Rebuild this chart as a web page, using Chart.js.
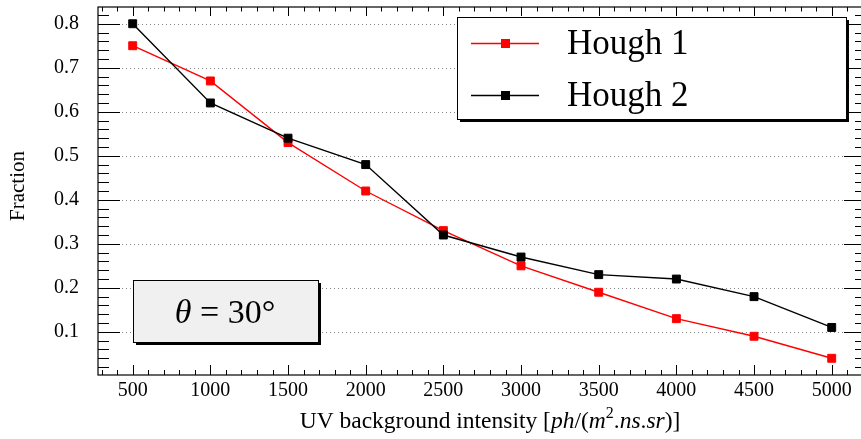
<!DOCTYPE html>
<html>
<head>
<meta charset="utf-8">
<script src="https://cdn.jsdelivr.net/npm/chart.js@4.4.1/dist/chart.umd.min.js"></script>
<style>
  html, body { margin: 0; padding: 0; background: #fff; }
  #wrap { width: 861px; height: 439px; position: relative; }
</style>
</head>
<body>
<div id="wrap"><canvas id="fractionChart"></canvas></div>
<script>
// data
const intensity = [500, 1000, 1500, 2000, 2500, 3000, 3500, 4000, 4500, 5000];
const hough1 = [0.75, 0.67, 0.53, 0.42, 0.33, 0.25, 0.19, 0.13, 0.09, 0.04];
const hough2 = [0.80, 0.62, 0.54, 0.48, 0.32, 0.27, 0.23, 0.22, 0.18, 0.11];
const seriesNames = ['Hough 1', 'Hough 2'];
const xTicks = [500, 1000, 1500, 2000, 2500, 3000, 3500, 4000, 4500, 5000];
const yTicks = [0.1, 0.2, 0.3, 0.4, 0.5, 0.6, 0.7, 0.8];
const angleText = '30°';

const serif = "'Liberation Serif', 'Times New Roman', serif";
const frameCut = 5; // the right side of the frame is cropped off the image

// draw a line of text made of runs: [text, 'n' | 'i' | 'sup']
function drawRuns(ctx, runs, cx, baseY, size) {
  const fontOf = s => s === 'i' ? `italic ${size}px ${serif}`
    : s === 'sup' ? `${Math.round(size * 0.7)}px ${serif}` : `${size}px ${serif}`;
  let total = 0;
  const widths = runs.map(([t, s]) => { ctx.font = fontOf(s); const w = ctx.measureText(t).width; total += w; return w; });
  let x = cx - total / 2;
  ctx.textAlign = 'left'; ctx.textBaseline = 'alphabetic'; ctx.fillStyle = '#000';
  runs.forEach(([t, s], i) => {
    ctx.font = fontOf(s);
    ctx.fillText(t, x, s === 'sup' ? baseY - size * 0.42 : baseY);
    x += widths[i];
  });
}

function shadowBox(ctx, x0, y0, x1, y1, fill) {
  ctx.fillStyle = '#000';
  ctx.fillRect(x0 + 3, y0 + 3, x1 - x0, y1 - y0);
  ctx.fillStyle = fill;
  ctx.fillRect(x0, y0, x1 - x0, y1 - y0);
  ctx.strokeStyle = '#000'; ctx.lineWidth = 1; ctx.setLineDash([]);
  ctx.strokeRect(x0 + 0.5, y0 + 0.5, x1 - x0, y1 - y0);
}

// ROOT-like frame, ticks, legend and label box
const rootFrame = {
  id: 'rootFrame',
  beforeDatasetsDraw(chart) {
    const { ctx, chartArea: a, scales: { y } } = chart;
    ctx.save();
    ctx.strokeStyle = '#888'; ctx.lineWidth = 1; ctx.setLineDash([1, 3]);
    yTicks.forEach(v => {
      const py = Math.round(y.getPixelForValue(v)) + 0.5;
      ctx.beginPath(); ctx.moveTo(a.left, py); ctx.lineTo(a.right, py); ctx.stroke();
    });
    ctx.restore();
  },
  afterDatasetsDraw(chart) {
    const { ctx, chartArea: a, scales: { x, y } } = chart;
    const right = a.right + frameCut;
    ctx.save();
    ctx.strokeStyle = '#000'; ctx.lineWidth = 1.2; ctx.setLineDash([]);
    ctx.strokeRect(a.left, a.top, right - a.left, a.bottom - a.top);

    ctx.lineWidth = 1;
    ctx.beginPath();
    for (let v = 300; v <= 5200; v += 100) {
      const px = Math.round(x.getPixelForValue(v)) + 0.5;
      const len = v % 500 === 0 ? 10 : 5;
      ctx.moveTo(px, a.bottom); ctx.lineTo(px, a.bottom - len);
      ctx.moveTo(px, a.top); ctx.lineTo(px, a.top + len * 0.9);
    }
    for (let i = 1; i <= 41; i++) {
      const py = Math.round(y.getPixelForValue(i * 0.02)) + 0.5;
      const len = i % 5 === 0 ? 22 : 11;
      ctx.moveTo(a.left, py); ctx.lineTo(a.left + len, py);
      ctx.moveTo(right, py); ctx.lineTo(right - len, py);
    }
    ctx.stroke();

    // legend
    shadowBox(ctx, 457, 17, 846, 119, '#fff');
    chart.data.datasets.forEach((ds, i) => {
      const cy = [43, 95][i];
      ctx.strokeStyle = ds.borderColor; ctx.lineWidth = 1.4;
      ctx.beginPath(); ctx.moveTo(471, cy + 0.5); ctx.lineTo(539, cy + 0.5); ctx.stroke();
      ctx.fillStyle = ds.borderColor;
      ctx.fillRect(501, cy - 4, 9, 9);
      ctx.fillStyle = '#000'; ctx.font = `35px ${serif}`;
      ctx.textAlign = 'left'; ctx.textBaseline = 'alphabetic';
      ctx.fillText(ds.label, 567, cy + 11);
    });

    // angle box
    shadowBox(ctx, 133, 280, 318, 342, '#f0f0f0');
    drawRuns(ctx, [['θ', 'i'], [' = ' + angleText, 'n']], 225, 323, 34);

    // axis titles
    drawRuns(ctx, [['UV background intensity [', 'n'], ['ph', 'i'], ['/(', 'n'], ['m', 'i'], ['2', 'sup'],
      ['.', 'n'], ['ns', 'i'], ['.', 'n'], ['sr', 'i'], [')]', 'n']], 490, 428, 23.5);
    ctx.save();
    ctx.translate(24, 186); ctx.rotate(-Math.PI / 2);
    drawRuns(ctx, [['Fraction', 'n']], 0, 0, 21);
    ctx.restore();
    ctx.restore();
  }
};

const noPad = s => { s.paddingTop = 0; s.paddingBottom = 0; s.paddingLeft = 0; s.paddingRight = 0; };

new Chart(document.getElementById('fractionChart'), {
  type: 'line',
  data: {
    labels: intensity,
    datasets: [
      { label: seriesNames[0], data: intensity.map((v, i) => ({ x: v, y: hough1[i] })), borderColor: '#ff0000', backgroundColor: '#ff0000',
        borderWidth: 1.4, pointStyle: 'rect', pointRadius: 5.6, pointBorderWidth: 1, pointBackgroundColor: '#ff0000', tension: 0, order: 2 },
      { label: seriesNames[1], data: intensity.map((v, i) => ({ x: v, y: hough2[i] })), borderColor: '#000000', backgroundColor: '#000000',
        borderWidth: 1.4, pointStyle: 'rect', pointRadius: 5.6, pointBorderWidth: 1, pointBackgroundColor: '#000000', tension: 0, order: 1 }
    ]
  },
  options: {
    responsive: true, maintainAspectRatio: false, animation: false,
    layout: { autoPadding: false, padding: { top: 7, right: 0, left: 0, bottom: 0 } },
    plugins: { legend: { display: false }, tooltip: { enabled: false } },
    scales: {
      x: {
        type: 'linear', min: 276.6, max: 5188.6,
        grid: { display: false, drawTicks: false }, border: { display: false },
        afterBuildTicks: s => { s.ticks = xTicks.map(v => ({ value: v })); },
        afterFit: s => { s.height = 64; noPad(s); },
        ticks: { padding: 4, maxRotation: 0, autoSkip: false, color: '#000', font: { family: serif, size: 20 }, callback: v => String(v) }
      },
      y: {
        min: 0.002, max: 0.838,
        grid: { display: false, drawTicks: false }, border: { display: false },
        afterBuildTicks: s => { s.ticks = yTicks.map(v => ({ value: v })); },
        afterFit: s => { s.width = 98; noPad(s); },
        ticks: { padding: 19, color: '#000', font: { family: serif, size: 20 }, callback: v => v.toFixed(1) }
      }
    }
  },
  plugins: [rootFrame]
});
</script>
</body>
</html>
